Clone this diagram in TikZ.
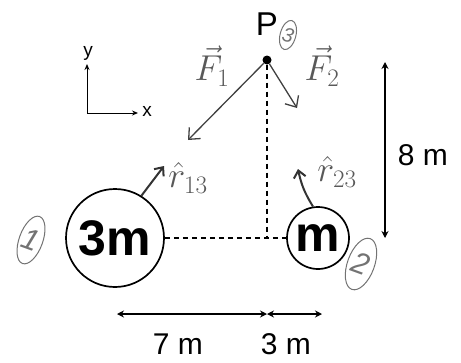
\RequirePackage{fix-cm}
\documentclass[tikz,border=0pt]{standalone}
\usepackage{fontspec}
\setmainfont{Liberation Sans}
\usetikzlibrary{arrows.meta, shapes.geometric}
\tikzset{
  mass/.style={circle, draw, line width=1.7pt, inner sep=0pt, font=\fontsize{50}{60}\selectfont\bfseries},
  dot/.style={circle, fill, inner sep=0pt, minimum size=9pt},
  dashline/.style={dashed, line width=1.1pt, dash pattern=on 5pt off 4pt},
  force/.style={-{Straight Barb[length=9pt, width=16pt]}, line width=1.3pt, black!75},
  unitvec/.style={-{Straight Barb[length=7pt, width=12pt]}, line width=2pt, black!80},
  dim/.style={<->, >={Stealth[length=7pt, width=7pt]}, line width=1.1pt},
  axis/.style={->, >={Stealth[length=6pt, width=5pt]}, line width=1pt},
  handlabel/.style={text=black!65, inner sep=0pt, font=\fontsize{36}{40}\selectfont},
  circnum/.style={ellipse, draw=black!55, line width=1pt, text=black!55, inner sep=0pt, font=\fontsize{30}{32}\selectfont\itshape},
  dimlabel/.style={font=\fontsize{30}{34}\selectfont}
}
\begin{document}
\begin{tikzpicture}[x=1pt, y=-1pt]
  \useasboundingbox (0,0) rectangle (461,362);
  % axes
  \coordinate (origin) at (87,113);
  \coordinate (ytip) at (87,64);
  \coordinate (xtip) at (138,113);
  \draw[axis] (origin) -- (ytip);
  \draw[axis] (origin) -- (xtip);
  \node[font=\fontsize{19}{20}\selectfont] (ylab) at (88,53) {y};
  \node[font=\fontsize{19}{20}\selectfont] (xlab) at (147,111) {x};
  % masses
  \node[mass, minimum size=98pt] (m1) at (115,238) {3m};
  \node[mass, minimum size=62pt] (m2) at (318,238) {m};
  % point P
  \node[dot] (P) at (267,60) {};
  \node[font=\fontsize{33}{36}\selectfont] (Plab) at (267,24) {P};
  % dashed lines
  \coordinate (foot) at (267,238);
  \draw[dashline] (m1.east) -- (m2.west);
  \draw[dashline] (P) -- (foot);
  % forces
  \coordinate (F1tip) at (188,140);
  \coordinate (F2tip) at (297,108);
  \draw[force] (P) -- (F1tip);
  \draw[force] (P) -- (F2tip);
  \node[handlabel] (F1lab) at (212,66) {$\vec F_1$};
  \node[handlabel] (F2lab) at (322,66) {$\vec F_2$};
  % unit vectors
  \coordinate (r13tip) at (164,166);
  \coordinate (r23tip) at (298,169);
  \draw[unitvec] (m1.58) -- (r13tip);
  \draw[unitvec] (m2.99) to[bend left=10] (r23tip);
  \node[handlabel] (r13lab) at (188,178) {$\hat r_{13}$};
  \node[handlabel] (r23lab) at (337,172) {$\hat r_{23}$};
  % circled numbers
  \node[circnum, minimum width=22pt, minimum height=50pt, rotate=-20] (n1) at (31,240) {1};
  \node[circnum, minimum width=27pt, minimum height=54pt, rotate=-20] (n2) at (361,264) {2};
  \node[circnum, minimum width=14pt, minimum height=30pt, rotate=-15, font=\fontsize{20}{22}\selectfont\itshape] (n3) at (288,35) {3};
  % dimensions
  \coordinate (d7a) at (117,314);
  \coordinate (d7b) at (267,314);
  \coordinate (d3b) at (322,314);
  \draw[dim] (d7a) -- (d7b);
  \draw[dim] (d7b) -- (d3b);
  \node[dimlabel] (d7lab) at (178,344) {7 m};
  \node[dimlabel] (d3lab) at (286,344) {3 m};
  \coordinate (d8a) at (385,62);
  \coordinate (d8b) at (385,238);
  \draw[dim] (d8a) -- (d8b);
  \node[dimlabel] (d8lab) at (423,155) {8 m};
\end{tikzpicture}
\end{document}
